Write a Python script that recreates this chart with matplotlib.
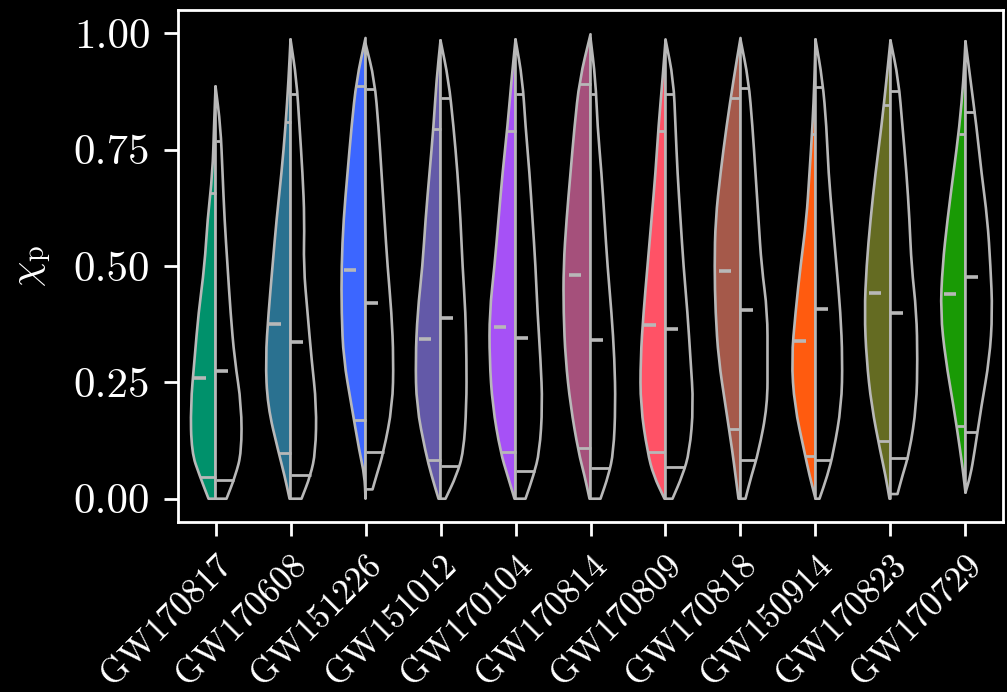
import numpy as np
import matplotlib
matplotlib.use("Agg")
import matplotlib.pyplot as plt
from matplotlib.path import Path
from matplotlib.patches import PathPatch

plt.rcParams["font.family"] = "serif"
plt.rcParams["font.serif"] = ["cmr10"]
plt.rcParams["mathtext.fontset"] = "cm"
plt.rcParams["axes.formatter.use_mathtext"] = True

events = ["GW170817", "GW170608", "GW151226", "GW151012", "GW170104", "GW170814",
          "GW170809", "GW170818", "GW150914", "GW170823", "GW170729"]
colors = ["#00916b", "#2a7190", "#3c66ff", "#6359a8", "#a651f6", "#a5507b",
          "#ff5266", "#a5594a", "#ff5b0f", "#646b22", "#199a05"]

# density profile sampled at fixed chi_p levels (None = outside the support)
levels = [0.05, 0.1, 0.2, 0.3, 0.4, 0.5, 0.6, 0.7, 0.8, 0.9]

left_min = [0, 0, 0, 0, 0, 0, 0, 0, 0, 0, 0.013]
left_max = [0.886, 0.987, 0.99, 0.985, 0.987, 0.998, 0.985, 0.99, 0.987, 0.985, 0.983]
left_base = [7, 1, 0, 2, 1, 1, 1, 2, 0, 1, 0]
left_density = [
    [16, 24, 25, 21, 17, 11, 8, 3, 1.5, None],
    [6, 12, 23, 25, 22, 18, 14, 9, 5, 2],
    [1, 6, 14, 22, 24, 24, 22, 18, 14, 9],
    [9, 15, 24, 25, 23, 18, 15, 11, 7, 4],
    [8, 15, 23, 26, 26, 21, 17, 13, 8, 4],
    [6, 12, 20, 25, 27, 27, 24, 20, 16, 11],
    [12, 18, 25, 25, 22, 18, 14, 10, 7, 3],
    [5, 8, 15, 22, 25, 26, 25, 20, 14, 7],
    [6, 11, 21, 24, 20, 15, 9, 6, 3, 1],
    [5, 10, 19, 24, 26, 24, 20, 15, 9, 4],
    [2, 5, 12, 20, 25, 23, 18, 12, 6, 2],
]

right_min = [0, 0, 0.02, 0, 0, 0, 0, 0, 0, 0.01, 0.013]
right_max = [0.886, 0.987, 0.978, 0.985, 0.987, 0.99, 0.987, 0.987, 0.987, 0.985, 0.983]
right_base = [11, 11, 7, 5, 10, 10, 7, 5, 4, 7, 0]
right_density = [
    [20, 26, 26, 19, 15, 12, 9, 7, 5, None],
    [20, 25, 26, 21, 17, 13, 14, 12, 9, 6],
    [11, 18, 27, 28, 26, 22, 19, 16, 13, 9],
    [16, 23, 26, 26, 25, 22, 20, 17, 13, 8],
    [18, 24, 27, 25, 22, 20, 17, 14, 10, 7],
    [18, 23, 25, 24, 21, 17, 14, 11, 7, 5],
    [17, 24, 28, 25, 22, 18, 15, 12, 10, 8],
    [11, 18, 27, 27, 27, 21, 18, 15, 12, 8],
    [12, 18, 26, 27, 25, 21, 17, 13, 11, 7],
    [12, 19, 26, 27, 26, 21, 19, 16, 12, 8],
    [5, 9, 16, 24, 27, 25, 22, 16, 11, 5],
]

# 5th, 50th and 95th percentiles of each half
left_q05 = [0.046, 0.098, 0.169, 0.083, 0.10, 0.11, 0.10, 0.15, 0.092, 0.124, 0.156]
left_q50 = [0.259, 0.375, 0.492, 0.343, 0.37, 0.48, 0.373, 0.49, 0.339, 0.441, 0.439]
left_q95 = [0.657, 0.81, 0.886, 0.795, 0.79, 0.89, 0.79, 0.861, 0.784, 0.846, 0.784]
right_q05 = [0.04, 0.051, 0.10, 0.07, 0.06, 0.065, 0.068, 0.083, 0.083, 0.087, 0.143]
right_q50 = [0.275, 0.337, 0.42, 0.388, 0.345, 0.34, 0.364, 0.405, 0.408, 0.398, 0.476]
right_q95 = [0.769, 0.869, 0.88, 0.861, 0.87, 0.87, 0.87, 0.882, 0.884, 0.877, 0.83]

DENSITY_SCALE = 1 / 75.0
EDGE = "#b8b8b8"


def profile(lo, hi, base, dens):
    ys = [lo] + [l for l, d in zip(levels, dens) if d is not None and lo < l < hi] + [hi]
    ws = [base] + [d for l, d in zip(levels, dens) if d is not None and lo < l < hi] + [0]
    return np.array(ys), np.array(ws, dtype=float) * DENSITY_SCALE


def half_path(pos, ys, ws, sign):
    pts = [(pos + sign * w, y) for y, w in zip(ys, ws)]
    verts = [(pos, ys[0]), pts[0], ((pts[0][0] + pts[1][0]) / 2, (pts[0][1] + pts[1][1]) / 2)]
    codes = [Path.MOVETO, Path.LINETO, Path.LINETO]
    for i in range(1, len(pts) - 1):
        mid = ((pts[i][0] + pts[i + 1][0]) / 2, (pts[i][1] + pts[i + 1][1]) / 2)
        verts += [pts[i], mid]
        codes += [Path.CURVE3, Path.CURVE3]
    verts += [pts[-1], (pos, ys[-1]), (pos, ys[0])]
    codes += [Path.LINETO, Path.LINETO, Path.CLOSEPOLY]
    return Path(verts, codes)


fig = plt.figure(figsize=(10.07, 6.92), dpi=100, facecolor="black")
ax = fig.add_axes([0.1768, 0.2457, 0.8192, 0.7398])
ax.set_facecolor("black")

for i, name in enumerate(events):
    for sign, lo, hi, base, dens, q05, q50, q95, face in [
        (-1, left_min[i], left_max[i], left_base[i], left_density[i],
         left_q05[i], left_q50[i], left_q95[i], colors[i]),
        (1, right_min[i], right_max[i], right_base[i], right_density[i],
         right_q05[i], right_q50[i], right_q95[i], "black"),
    ]:
        ys, ws = profile(lo, hi, base, dens)
        ax.add_patch(PathPatch(half_path(i, ys, ws, sign), facecolor=face,
                               edgecolor=EDGE, lw=1.9, zorder=2, joinstyle="round"))
        for q in (q05, q95):
            w = np.interp(q, ys, ws)
            ax.plot([i, i + sign * w], [q, q], color=EDGE, lw=2.0, zorder=3,
                    solid_capstyle="butt")
        if sign < 0:
            ax.plot([i - 0.29, i - 0.125], [q50, q50], color=EDGE, lw=2.6, zorder=3,
                    solid_capstyle="butt")
        else:
            ax.plot([i, i + 0.165], [q50, q50], color=EDGE, lw=2.6, zorder=3,
                    solid_capstyle="butt")

ax.set_xlim(-0.5, 10.5)
ax.set_ylim(-0.05, 1.05)
ax.set_yticks([0, 0.25, 0.5, 0.75, 1.0])
ax.set_yticklabels(["0.00", "0.25", "0.50", "0.75", "1.00"])
ax.set_xticks(range(len(events)))
ax.set_xticklabels(events, rotation=45, ha="right", va="top", rotation_mode="anchor")
ax.set_ylabel(r"$\chi_{\rm p}$", color="white", fontsize=29, labelpad=14)

for s in ax.spines.values():
    s.set_color("white")
    s.set_linewidth(2)
ax.tick_params(axis="both", colors="white", length=10, width=2)
ax.tick_params(axis="y", labelsize=31, pad=10)
ax.tick_params(axis="x", labelsize=25.5, pad=10)

fig.savefig("out.png", dpi=100, facecolor="black")
